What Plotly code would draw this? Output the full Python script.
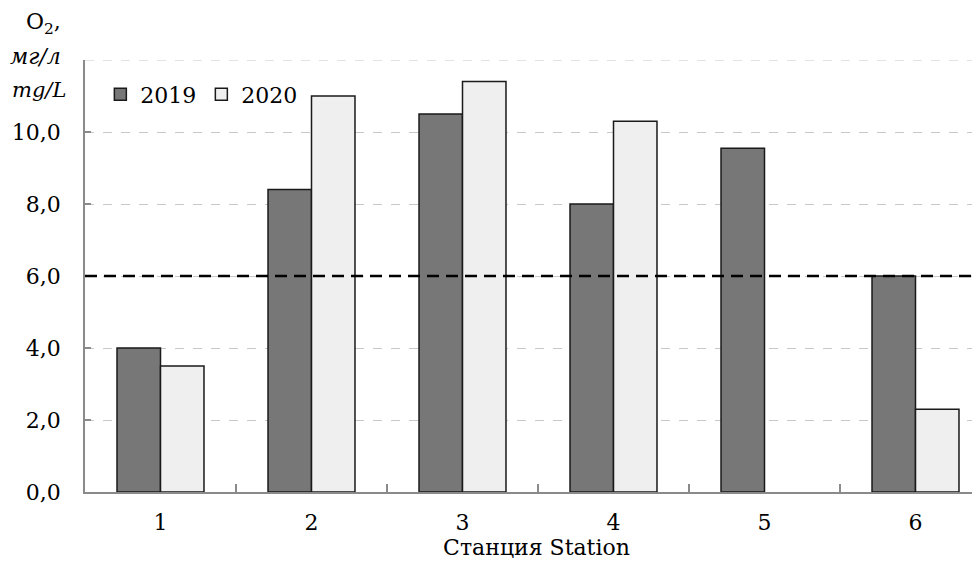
import plotly.graph_objects as go

stations = [1, 2, 3, 4, 5, 6]
tick_labels = ["1", "2", "3", "4", "5", "6"]
o2_2019 = [4.0, 8.4, 10.5, 8.0, 9.55, 6.0]
o2_2020 = [3.5, 11.0, 11.4, 10.3, None, 2.3]
threshold = 6.0
y_top = 12
y_ticks = [0, 2, 4, 6, 8, 10]
y_tick_text = ["0,0", "2,0", "4,0", "6,0", "8,0", "10,0"]

FONT = "DejaVu Serif"

fig = go.Figure()
fig.add_trace(go.Bar(x=stations, y=o2_2019, name="2019",
                     marker=dict(color="#777777", line=dict(color="#1a1a1a", width=1.5))))
fig.add_trace(go.Bar(x=stations, y=o2_2020, name="2020",
                     marker=dict(color="#efefef", line=dict(color="#1a1a1a", width=1.5))))

fig.add_shape(type="line", xref="paper", x0=0, x1=1, yref="y", y0=y_top, y1=y_top,
              line=dict(color="#c8c8c8", width=1, dash="dash"), layer="below")
fig.add_shape(type="line", xref="paper", x0=0, x1=1, yref="y", y0=threshold, y1=threshold,
              line=dict(color="black", width=2.6, dash="12px,7px"), layer="above")

fig.update_layout(
    width=980, height=557,
    margin=dict(l=77, r=0, t=52, b=73),
    plot_bgcolor="white", paper_bgcolor="white",
    barmode="group", bargap=0.424, bargroupgap=0,
    font=dict(family=FONT, size=22, color="black"),
    showlegend=True,
    legend=dict(orientation="h", x=0.017, y=0.92, xanchor="left", yanchor="middle",
                font=dict(family=FONT, size=22), bgcolor="rgba(0,0,0,0)", itemwidth=30,
                tracegroupgap=0),
    xaxis=dict(range=[0.5, 6.5 - 3 / 151], tickvals=stations, ticktext=tick_labels,
               ticks="", showgrid=False, showline=True, linecolor="#8a8a8a", linewidth=1.5,
               zeroline=False, tickfont=dict(family=FONT, size=22), ticklabelstandoff=10,
               minor=dict(tickvals=[1.5, 2.5, 3.5, 4.5, 5.5], ticks="inside", ticklen=8,
                          tickcolor="#8a8a8a", tickwidth=1.5, showgrid=False),
               title=dict(text="Станция Station", standoff=4, font=dict(family=FONT, size=22))),
    yaxis=dict(range=[0, y_top], tickvals=y_ticks, ticktext=y_tick_text,
               tickfont=dict(family=FONT, size=22),
               showgrid=True, gridcolor="#c8c8c8", griddash="dash", gridwidth=1,
               showline=True, linecolor="#8a8a8a", linewidth=1.5, zeroline=False,
               ticks="inside", ticklen=6, tickcolor="#8a8a8a", tickwidth=1.5,
               ticklabelstandoff=18),
)

fig.add_annotation(text="O<sub>2</sub>,", xref="paper", yref="paper", x=-0.024, y=1.0,
                   yshift=37, xanchor="right", yanchor="middle", showarrow=False,
                   font=dict(family=FONT, size=22))
fig.add_annotation(text="<i>мг/л</i>", xref="paper", yref="paper", x=-0.024, y=1.0,
                   yshift=4, xanchor="right", yanchor="middle", showarrow=False,
                   font=dict(family=FONT, size=22))
fig.add_annotation(text="<i>mg/L</i>", xref="paper", yref="paper", x=-0.019, y=1.0,
                   yshift=-30, xanchor="right", yanchor="middle", showarrow=False,
                   font=dict(family=FONT, size=21))

fig.write_html("out.html")
